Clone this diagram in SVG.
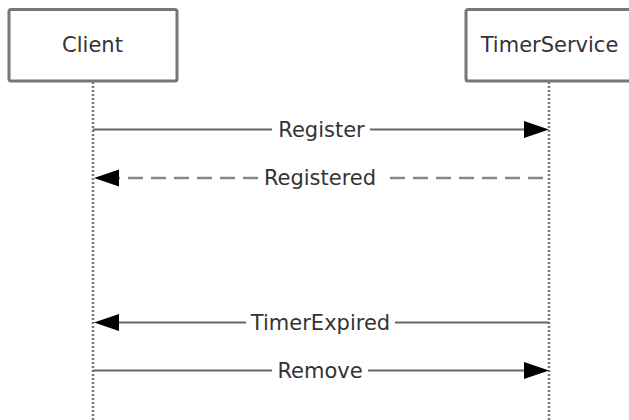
<svg xmlns="http://www.w3.org/2000/svg" width="629" height="420" viewBox="0 0 629 420">
<style>
.box{fill:#fff;stroke:#777;stroke-width:3}
.life{stroke:#777;stroke-width:2.5;stroke-dasharray:2 2;fill:none}
.lbl{font-family:"DejaVu Sans",Verdana,sans-serif;font-size:21px;fill:#333;text-anchor:middle}
.msg{stroke:#666;stroke-width:2;fill:none}
.ret{stroke:#888;stroke-width:2.5;fill:none;stroke-dasharray:15 8}
.head{fill:#000}
</style>
<rect width="629" height="420" fill="#fff"/>
<g id="client">
<rect class="box" x="9" y="9.5" width="168" height="71.5" rx="2"/>
<text class="lbl" x="92.5" y="52">Client</text>
<line class="life" x1="93" y1="82" x2="93" y2="420"/>
</g>
<g id="timerservice">
<rect class="box" x="466" y="9.5" width="168" height="71.5" rx="2"/>
<text class="lbl" x="549.5" y="52">TimerService</text>
<line class="life" x1="549" y1="82" x2="549" y2="420"/>
</g>
<g id="connectors">
<g id="register">
<path class="msg" d="M93 129.5H272M370 129.5H526"/>
<polygon class="head" points="549,129.5 524,121 524,138"/>
<text class="lbl" x="321.5" y="136.5">Register</text>
</g>
<g id="registered">
<path class="ret" d="M390 178H549"/>
<path class="ret" d="M258 178H118"/>
<polygon class="head" points="94,178 119,169.5 119,186.5"/>
<text class="lbl" x="320" y="185">Registered</text>
</g>
<g id="timerexpired">
<path class="msg" d="M549 322.5H395M246 322.5H118"/>
<polygon class="head" points="94,322.5 119,314 119,331"/>
<text class="lbl" x="320.5" y="329.5">TimerExpired</text>
</g>
<g id="remove">
<path class="msg" d="M93 370.5H272M368 370.5H526"/>
<polygon class="head" points="549,370.5 524,362 524,379"/>
<text class="lbl" x="320" y="377.5">Remove</text>
</g>
</g>
</svg>
